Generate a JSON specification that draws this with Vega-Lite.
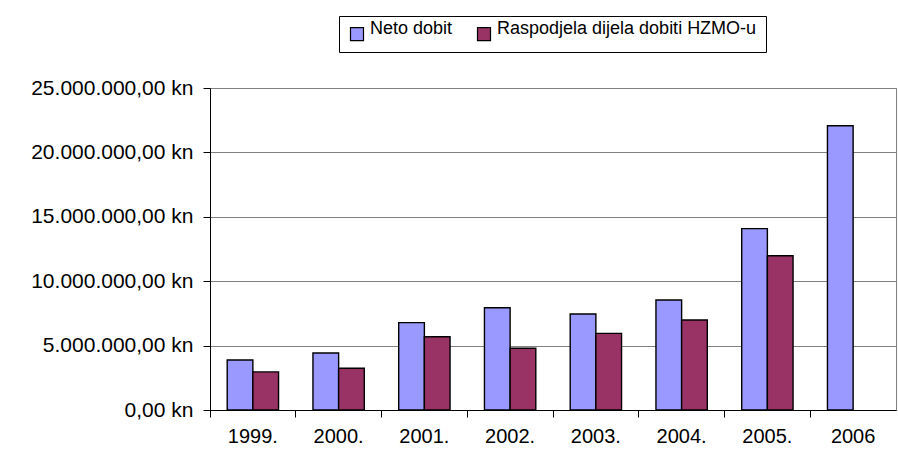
{
  "$schema": "https://vega.github.io/schema/vega-lite/v6.json",
  "width": 686,
  "height": 322,
  "autosize": "none",
  "padding": {"left": 210, "top": 88, "right": 2, "bottom": 60},
  "background": "white",
  "data": {
    "values": [
      {"godina": "1999.", "serija": "Neto dobit", "iznos": 3880000},
      {"godina": "1999.", "serija": "Raspodjela dijela dobiti HZMO-u", "iznos": 2960000},
      {"godina": "2000.", "serija": "Neto dobit", "iznos": 4430000},
      {"godina": "2000.", "serija": "Raspodjela dijela dobiti HZMO-u", "iznos": 3240000},
      {"godina": "2001.", "serija": "Neto dobit", "iznos": 6780000},
      {"godina": "2001.", "serija": "Raspodjela dijela dobiti HZMO-u", "iznos": 5690000},
      {"godina": "2002.", "serija": "Neto dobit", "iznos": 7940000},
      {"godina": "2002.", "serija": "Raspodjela dijela dobiti HZMO-u", "iznos": 4790000},
      {"godina": "2003.", "serija": "Neto dobit", "iznos": 7450000},
      {"godina": "2003.", "serija": "Raspodjela dijela dobiti HZMO-u", "iznos": 5950000},
      {"godina": "2004.", "serija": "Neto dobit", "iznos": 8540000},
      {"godina": "2004.", "serija": "Raspodjela dijela dobiti HZMO-u", "iznos": 6990000},
      {"godina": "2005.", "serija": "Neto dobit", "iznos": 14080000},
      {"godina": "2005.", "serija": "Raspodjela dijela dobiti HZMO-u", "iznos": 11980000},
      {"godina": "2006", "serija": "Neto dobit", "iznos": 22070000}
    ]
  },
  "mark": {"type": "bar", "stroke": "black", "strokeWidth": 1.4},
  "encoding": {
    "x": {
      "field": "godina",
      "type": "nominal",
      "sort": null,
      "scale": {"paddingInner": 0, "paddingOuter": 0},
      "axis": {
        "title": null,
        "labelAngle": 0,
        "bandPosition": 0,
        "grid": false,
        "tickSize": 7,
        "labelPadding": 9,
        "labelFontSize": 20,
        "tickColor": "black",
        "domainColor": "black"
      }
    },
    "xOffset": {
      "field": "serija",
      "type": "nominal",
      "sort": ["Neto dobit", "Raspodjela dijela dobiti HZMO-u"],
      "scale": {"domain": ["Neto dobit", "Raspodjela dijela dobiti HZMO-u"], "paddingInner": 0, "paddingOuter": 0.67}
    },
    "y": {
      "field": "iznos",
      "type": "quantitative",
      "scale": {"domain": [0, 25000000], "nice": false},
      "axis": {
        "title": null,
        "values": [0, 5000000, 10000000, 15000000, 20000000, 25000000],
        "labelExpr": "replace(replace(replace(format(datum.value, ',.2f'), regexp(',', 'g'), '#'), regexp('[.]', 'g'), ','), regexp('#', 'g'), '.') + ' kn'",
        "tickSize": 7,
        "labelPadding": 10,
        "labelFontSize": 21,
        "tickColor": "black",
        "domainColor": "black",
        "gridColor": "#808080",
        "gridWidth": 1,
        "gridOpacity": 1
      }
    },
    "color": {
      "field": "serija",
      "type": "nominal",
      "scale": {"domain": ["Neto dobit", "Raspodjela dijela dobiti HZMO-u"], "range": ["#9999FF", "#993366"]},
      "legend": {
        "title": null,
        "orient": "none",
        "direction": "horizontal",
        "legendX": 129,
        "legendY": -72,
        "padding": 9,
        "strokeColor": "black",
        "fillColor": "white",
        "symbolType": "square",
        "symbolSize": 169,
        "symbolStrokeColor": "black",
        "symbolStrokeWidth": 1.2,
        "symbolOpacity": 1,
        "labelOffset": 4,
        "columnPadding": 22,
        "labelFontSize": 18,
        "labelFont": "Liberation Sans",
        "labelColor": "black",
        "labelBaseline": "alphabetic",
        "labelLimit": 400
      }
    }
  },
  "config": {
    "view": {"stroke": "#808080", "strokeWidth": 1},
    "axis": {
      "labelFont": "Liberation Sans",
      "labelColor": "black",
      "domainWidth": 1,
      "tickWidth": 1
    }
  }
}
